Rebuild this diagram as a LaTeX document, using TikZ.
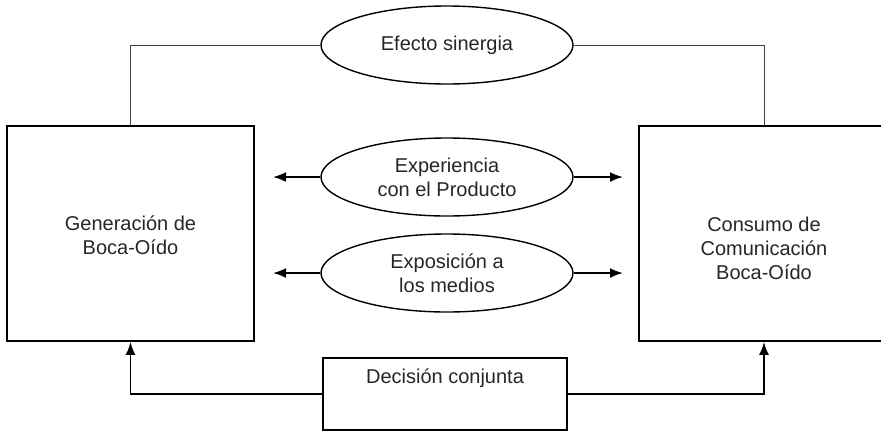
\documentclass[tikz,border=0pt]{standalone}
\usepackage{fontspec}
\setmainfont{Liberation Sans}
\usetikzlibrary{arrows.meta,shapes.geometric,calc}

\begin{document}
\begin{tikzpicture}[x=1pt,y=-1pt,
  box/.style={draw,rectangle,line width=1.8pt,inner sep=0pt},
  oval/.style={draw,ellipse,line width=1.4pt,minimum width=252pt,minimum height=78pt,
    inner sep=0pt,align=center,text=black!85,font=\fontsize{20}{24}\selectfont},
  thinline/.style={line width=1pt,draw=black!75},
  arr/.style={line width=1.8pt,-{Latex[length=13pt,width=10pt]}},
  lbl/.style={align=center,text=black!85,font=\fontsize{20}{24}\selectfont,anchor=center}]
\useasboundingbox (0,0) rectangle (881,432);
% boxes
\node[box,minimum width=247pt,minimum height=215pt,
  label={[lbl,yshift=-2pt]center:Generación de\\Boca-Oído}] (gen) at (130.5,233.5) {};
\node[box,minimum width=250pt,minimum height=215pt,
  label={[lbl,yshift=-14.5pt]center:Consumo de\\Comunicación\\Boca-Oído}] (cons) at (764,233.5) {};
\node[box,minimum width=244pt,minimum height=72pt,
  label={[lbl,yshift=16pt]center:Decisión conjunta}] (dec) at (445,394) {};
% ovals
\node[oval] (sin) at (447,45) {Efecto sinergia};
\node[oval] (exp) at (447,177) {Experiencia\\con el Producto};
\node[oval] (med) at (447,273) {Exposición a\\los medios};
\coordinate (expL) at (273,177);
\coordinate (expR) at (623,177);
\coordinate (medL) at (273,273);
\coordinate (medR) at (623,273);
% connectors
\draw[thinline] (sin.west) -| (gen.north);
\draw[thinline] (sin.east) -| (cons.north);
\draw[arr] (exp.west) -- (expL);
\draw[arr] (exp.east) -- (expR);
\draw[arr] (med.west) -- (medL);
\draw[arr] (med.east) -- (medR);
\draw[arr] (dec.west) -| (gen.south);
\draw[arr] (dec.east) -| (cons.south);
\end{tikzpicture}
\end{document}
